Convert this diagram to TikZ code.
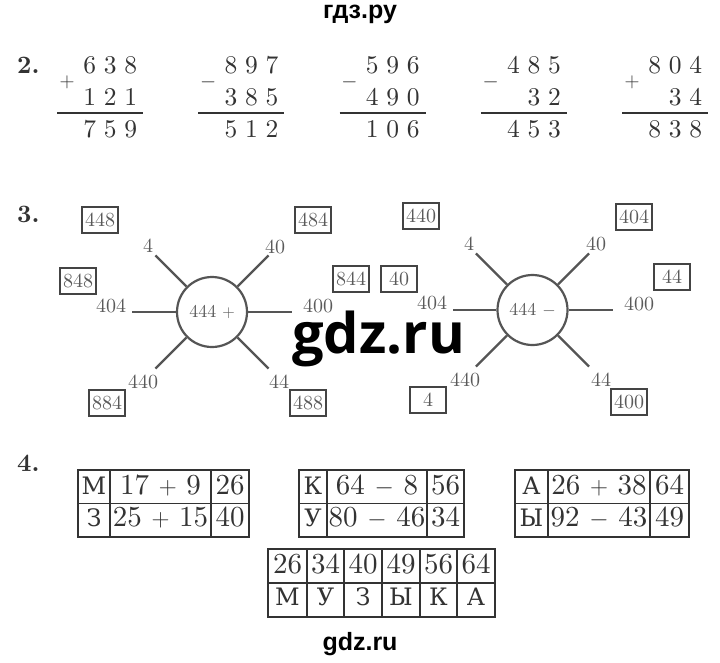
\documentclass[tikz,border=0pt]{standalone}
\usepackage{fontspec}
\setmainfont{lmroman10-regular.otf}[BoldFont=lmroman10-bold.otf]
\newfontfamily\cyrfont{DejaVu Serif}
\newfontfamily\hdrfont{Liberation Sans}
\newfontfamily\wmfont{Open Sans}
\definecolor{ink}{HTML}{333333}
\definecolor{raycol}{HTML}{555555}
\definecolor{labcol}{HTML}{5A5A5A}
\definecolor{boxcol}{HTML}{444444}
\def\spacedA#1{\ifx\relax#1\else\makebox[20.5pt]{#1}\expandafter\spacedA\fi}
\def\spacedx#1{\expandafter\spacedA#1\relax}
\begin{document}
\begin{tikzpicture}[x=1pt,y=1pt,
  digits/.style={inner sep=0, anchor=base east, text=ink, font=\fontsize{25.5}{25.5}\selectfont},
  signsym/.style={inner sep=0, text=ink, font=\fontsize{20}{20}\selectfont},
  bignum/.style={inner sep=0, anchor=base west, text=ink, font=\fontsize{25}{25}\selectfont\bfseries},
  hub/.style={circle, draw=raycol, line width=2.2, minimum size=70, inner sep=0, text=labcol, font=\fontsize{18}{18}\selectfont},
  spoke/.style={draw=raycol, line width=2.2},
  lbl/.style={inner sep=0, text=labcol, font=\fontsize{20}{20}\selectfont},
  ans/.style={draw=boxcol, line width=1.8, minimum width=36, minimum height=26, inner sep=0, text=labcol, font=\fontsize{20}{20}\selectfont},
  tabline/.style={draw=ink, line width=1.3},
  tcell/.style={inner sep=0, anchor=base, text=ink, font=\fontsize{29}{29}\selectfont},
  cyr/.style={inner sep=0, anchor=base, text=ink, font={\cyrfont\fontsize{24}{24}\selectfont}},
  wm/.style={inner sep=0, text=black, font={\hdrfont\bfseries\fontsize{25}{25}\selectfont}}
]
\useasboundingbox (0,0) rectangle (720,-662);
\fill[white] (0,0) rectangle (720,-662);

% header
\node[wm, anchor=base] (hdr) at (360,-18.5) {гдз.ру};

% ---------- 2 ----------
\node[bignum] (n2) at (17,-73) {2.};
\foreach \i/\R/\a/\b/\c/\s in {1/143/638/121/759/+, 2/284.3/897/385/512/-, 3/425.5/596/490/106/-, 4/566.8/485/32/453/-, 5/708/804/34/838/+}{
  \node[digits] (a\i) at (\R-1.75,-73) {\spacedx{\a}};
  \node[digits] (b\i) at (\R-1.75,-105) {\spacedx{\b}};
  \node[digits] (c\i) at (\R-1.75,-137) {\spacedx{\c}};
  \node[signsym] (s\i) at (\R-76,-82) {$\s$};
  \draw[ink, line width=1.6] (\R-86,-113) -- (\R,-113);
}

% ---------- 3 ----------
\node[bignum] (n3) at (17,-222) {3.};
\node[hub] (H1) at (212,-312) {444 $+$};
\node[hub] (H2) at (532.5,-310) {444 $-$};
\foreach \h in {H1,H2}{
  \foreach \ang [count=\k] in {45,0,-45,135,180,-135}{
    \path (\h) ++(\ang:80) coordinate (\h e\k);
    \draw[spoke] (\h.\ang) -- (\h e\k);
  }
}
% left labels
\node[lbl] (l1) at (148,-246) {4};
\node[lbl] (l2) at (275,-247) {40};
\node[lbl] (l3) at (111,-306) {404};
\node[lbl] (l4) at (318,-306) {400};
\node[lbl] (l5) at (143,-382) {440};
\node[lbl] (l6) at (279,-382) {44};
% right labels
\node[lbl] (r1) at (469,-244) {4};
\node[lbl] (r2) at (596,-244) {40};
\node[lbl] (r3) at (432,-303) {404};
\node[lbl] (r4) at (639,-304) {400};
\node[lbl] (r5) at (465,-380) {440};
\node[lbl] (r6) at (601,-380) {44};
% answer boxes left
\node[ans] (bl1) at (100,-220) {448};
\node[ans] (bl2) at (313,-220) {484};
\node[ans] (bl3) at (78,-281) {848};
\node[ans] (bl4) at (351,-279) {844};
\node[ans] (bl5) at (107,-403) {884};
\node[ans] (bl6) at (308,-403) {488};
% answer boxes right
\node[ans] (br1) at (421,-216) {440};
\node[ans] (br2) at (634,-217) {404};
\node[ans] (br3) at (399,-279) {40};
\node[ans] (br4) at (672,-277) {44};
\node[ans] (br5) at (428,-400) {4};
\node[ans] (br6) at (629,-402) {400};

% watermark
\node[inner sep=0, anchor=base west, text=black, font={\wmfont\bfseries\fontsize{56}{56}\selectfont}] (gdzmark) at (292,-353) {gdz.ru};

% ---------- 4 ----------
\node[bignum] (n4) at (17,-471) {4.};
% table 1
\draw[tabline] (78,-470) rectangle (249,-537);
\draw[tabline] (78,-503.5) -- (249,-503.5) (110,-470) -- (110,-537) (211,-470) -- (211,-537);
\node[cyr] (t1a) at (94,-494) {М};
\node[tcell] (t1b) at (160.5,-494) {17 $+$ 9};
\node[tcell] (t1c) at (230,-494) {26};
\node[cyr] (t1d) at (94,-526) {З};
\node[tcell] (t1e) at (160.5,-526) {25 $+$ 15};
\node[tcell] (t1f) at (230,-526) {40};
% table 2
\draw[tabline] (299,-470) rectangle (464,-537);
\draw[tabline] (299,-503.5) -- (464,-503.5) (327,-470) -- (327,-537) (427,-470) -- (427,-537);
\node[cyr] (t2a) at (313,-494) {К};
\node[tcell] (t2b) at (377,-494) {64 $-$ 8};
\node[tcell] (t2c) at (445.5,-494) {56};
\node[cyr] (t2d) at (313,-526) {У};
\node[tcell] (t2e) at (377,-526) {80 $-$ 46};
\node[tcell] (t2f) at (445.5,-526) {34};
% table 3
\draw[tabline] (515,-470) rectangle (689,-537);
\draw[tabline] (515,-503.5) -- (689,-503.5) (548,-470) -- (548,-537) (650,-470) -- (650,-537);
\node[cyr] (t3a) at (531.5,-494) {А};
\node[tcell] (t3b) at (599,-494) {26 $+$ 38};
\node[tcell] (t3c) at (669.5,-494) {64};
\node[cyr] (t3d) at (531.5,-526) {Ы};
\node[tcell] (t3e) at (599,-526) {92 $-$ 43};
\node[tcell] (t3f) at (669.5,-526) {49};
% table 4
\draw[tabline] (268,-549) rectangle (495,-617);
\draw[tabline] (268,-583) -- (495,-583);
\foreach \xx in {307,344,382,420,457}{ \draw[tabline] (\xx,-549) -- (\xx,-617); }
\foreach \num/\ltr/\cx in {26/М/287.5,34/У/325.5,40/З/363,49/Ы/401,56/К/438.5,64/А/476}{
  \node[tcell] (u\num) at (\cx,-573) {\num};
  \node[cyr] (v\num) at (\cx,-605) {\ltr};
}

% footer
\node[wm, anchor=base] (ftr) at (360,-650) {gdz.ru};
\end{tikzpicture}
\end{document}
